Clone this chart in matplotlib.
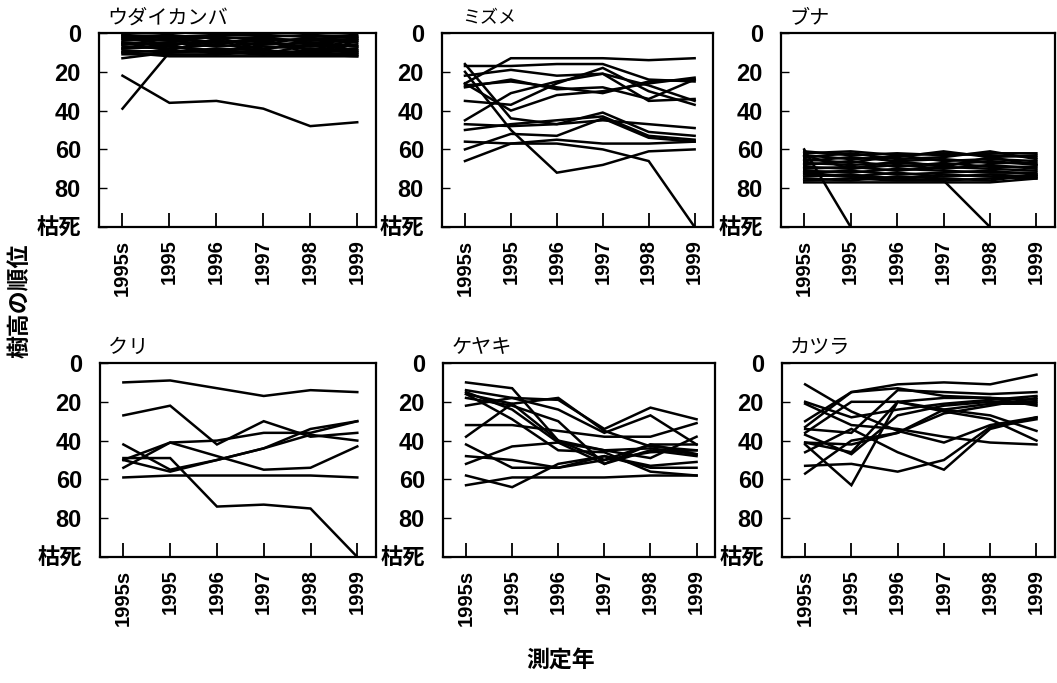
import numpy as np
import matplotlib
matplotlib.use("Agg")
import matplotlib.pyplot as plt

plt.rcParams['font.family'] = ['Liberation Sans', 'Noto Sans CJK JP', 'DejaVu Sans']

nan = np.nan
DEAD = 100  # 枯死

years = ["1995s", "1995", "1996", "1997", "1998", "1999"]
y_ticks = [0, 20, 40, 60, 80, 100]
y_labels = ["0", "20", "40", "60", "80", "枯死"]

# ウダイカンバ
udaikanba = [
    [1, 2, 1, 1, 2, 1], [2, 1, 3, 2, 1, 2], [3, 4, 2, 3, 4, 3],
    [4, 3, 5, 4, 3, 5], [5, 6, 4, 6, 5, 4], [6, 5, 7, 5, 7, 6],
    [7, 8, 6, 8, 6, 7], [8, 7, 9, 7, 8, 9], [9, 10, 8, 9, 10, 8],
    [10, 9, 10, 11, 9, 10], [11, 11, 11, 10, 11, 11], [10, 12, 12, 12, 12, 12],
    [2, 4, 6, 2, 5, 7], [6, 3, 2, 9, 3, 2], [1, 7, 10, 6, 2, 10],
    [3, 2, 5, 3, 11, 4], [5, 9, 3, 11, 6, 9], [8, 6, 11, 4, 9, 3],
    [39, 10, 9, 10, 10, 11], [13, 10, 9, 11, 11, 12],
    [22, 36, 35, 39, 48, 46],
]

# ミズメ
mizume = [
    [26, 13, 13, 13, 14, 13], [17, 17, 16, 16, 24, 25],
    [16, 44, 47, 45, 47, 49], [20, 50, 72, 68, 61, 60],
    [56, 57, 57, 60, 66, DEAD], [35, 37, 26, 18, 30, 37],
    [28, 24, 29, 28, 34, 24], [26, 40, 32, 30, 26, 23],
    [45, 31, 25, 21, 35, 34], [22, 19, 22, 21, 27, 35],
    [47, 48, 47, 41, 51, 53], [50, 47, 45, 43, 53, 55],
    [60, 52, 53, 44, 54, 56], [66, 57, 55, 57, 57, 56],
    [27, 25, 28, 31, 25, 24],
]

# ブナ
buna = [
    [60, DEAD, nan, nan, nan, nan], [72, 74, 75, 76, DEAD, nan],
    [61, 63, 62, 63, 62, 62], [62, 61, 63, 62, 63, 64],
    [63, 65, 64, 61, 64, 63], [64, 62, 65, 64, 61, 65],
    [65, 67, 63, 66, 65, 66], [66, 64, 66, 65, 67, 67],
    [67, 68, 67, 68, 66, 68], [68, 66, 69, 67, 69, 69],
    [69, 70, 68, 70, 68, 70], [70, 69, 71, 69, 70, 71],
    [71, 72, 70, 71, 72, 72], [72, 71, 73, 72, 71, 73],
    [73, 74, 72, 74, 73, 74], [74, 73, 75, 73, 74, 75],
    [75, 76, 74, 75, 76, 73], [76, 75, 76, 76, 75, 74],
    [77, 77, 77, 77, 77, 75], [63, 70, 66, 69, 64, 68],
]

# クリ
kuri = [
    [10, 9, 13, 17, 14, 15], [27, 22, 42, 30, 38, 36],
    [50, 41, 40, 36, 36, 30], [54, 41, 48, 55, 54, 43],
    [42, 55, 50, 44, 37, 40], [49, 49, 74, 73, 75, DEAD],
    [59, 58, 58, 58, 58, 59], [50, 56, 50, 44, 34, 30],
]

# ケヤキ
keyaki = [
    [10, 13, 40, 45, 44, 47], [14, 18, 19, 34, 23, 29],
    [16, 21, 40, 50, 42, 42], [15, 24, 41, 52, 45, 48],
    [22, 18, 24, 36, 27, 42], [32, 32, 35, 38, 38, 31],
    [38, 21, 18, 35, 43, 45], [42, 54, 54, 50, 46, 45],
    [48, 50, 54, 48, 53, 51], [52, 43, 41, 45, 49, 38],
    [58, 64, 52, 48, 54, 54], [63, 59, 59, 59, 58, 58],
    [16, 29, 45, 46, 56, 58], [18, 22, 30, 52, 42, 47],
]

# カツラ
katsura = [
    [30, 15, 11, 10, 11, 6], [11, 25, 35, 41, 32, 28],
    [20, 28, 24, 21, 19, 17], [21, 32, 34, 38, 41, 42],
    [34, 36, 14, 15, 16, 15], [37, 47, 27, 22, 20, 20],
    [41, 46, 20, 18, 18, 19], [42, 63, 20, 24, 21, 21],
    [53, 52, 56, 50, 33, 29], [57, 40, 36, 26, 22, 18],
    [46, 34, 46, 55, 34, 28], [33, 15, 13, 17, 18, 22],
    [41, 42, 36, 24, 27, 35], [36, 20, 20, 25, 29, 40],
]

species = ["ウダイカンバ", "ミズメ", "ブナ", "クリ", "ケヤキ", "カツラ"]
all_data = [udaikanba, mizume, buna, kuri, keyaki, katsura]

W, H = 1057, 683
fig = plt.figure(figsize=(W / 100, H / 100), dpi=100)

# axes boxes in pixels: left, right, top, bottom
boxes = [
    (99, 376, 33, 227), (442, 713, 33, 227), (781, 1055, 33, 227),
    (100, 376, 363, 557), (443, 715, 363, 557), (782, 1055, 363, 557),
]

x = np.arange(len(years))
for name, data, (l, r, t, b) in zip(species, all_data, boxes):
    ax = fig.add_axes([l / W, 1 - b / H, (r - l) / W, (b - t) / H])
    for row in data:
        ax.plot(x, row, color="black", lw=1.8, solid_joinstyle="miter")
    ax.set_xlim(-0.5, 5.4)
    ax.set_ylim(100, 0)
    ax.set_xticks(x)
    ax.set_xticklabels(years, rotation=90, fontsize=14.5, fontweight="bold")
    ax.set_yticks(y_ticks)
    ax.set_yticklabels(y_labels, fontweight="bold")
    for lab in ax.get_yticklabels():
        lab.set_fontsize(16 if lab.get_text() == "枯死" else 17)
    ax.tick_params(axis="x", direction="in", length=10, width=1.3, pad=9)
    ax.tick_params(axis="y", direction="in", length=6, width=1.0, pad=13)
    for s in ax.spines.values():
        s.set_linewidth(1.6)
    if name == "ミズメ":
        ax.text(0.074, 1.03, name, transform=ax.transAxes, ha="left",
                va="bottom", fontsize=13)
    else:
        ax.text(0.03, 1.03, name, transform=ax.transAxes, ha="left",
                va="bottom", fontsize=14.5)

fig.text(0.019, 0.56, "樹高の順位", rotation=90, ha="center", va="center",
         fontsize=16.5, fontweight="bold")
fig.text(0.53, 0.034, "測定年", ha="center", va="center",
         fontsize=16.5, fontweight="bold")

fig.savefig("out.png", dpi=100)
